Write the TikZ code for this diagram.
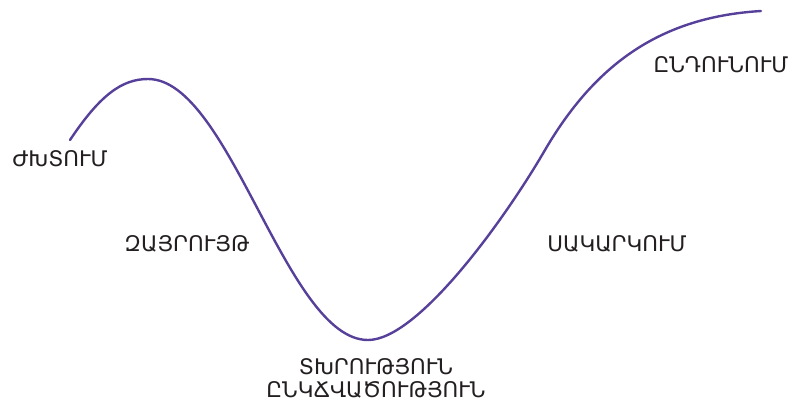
\documentclass[tikz,border=0pt]{standalone}
\usepackage{fontspec}
\setmainfont{DejaVu Sans}
\definecolor{curvecol}{HTML}{57409A}
\definecolor{textcol}{HTML}{231F20}
\begin{document}
\begin{tikzpicture}[x=1pt,y=-1pt,
  stage/.style={text=textcol,font=\fontsize{21.5}{23}\selectfont,inner sep=0pt,align=center},
  curve/.style={draw=curvecol,line width=2.4pt,line cap=round}]
\useasboundingbox (0,0) rectangle (797,402);
\draw[curve] (70,140) .. controls (100,95) and (122,79) .. (148,79)
  .. controls (230,79) and (286,340) .. (368,340)
  .. controls (418,340) and (505,219) .. (545,150)
  .. controls (595.5,63.7) and (661,17) .. (761,11);
\node[stage] (denial) at (60,159) {ԺԽՏՈՒՄ};
\node[stage] (anger) at (187,244) {ԶԱՅՐՈՒՅԹ};
\node[stage] (depr) at (376,378.5) {ՏԽՐՈՒԹՅՈՒՆ\\ԸՆԿՃՎԱԾՈՒԹՅՈՒՆ};
\node[stage] (barg) at (617,244) {ՍԱԿԱՐԿՈՒՄ};
\node[stage] (accept) at (721,65) {ԸՆԴՈՒՆՈՒՄ};
\end{tikzpicture}
\end{document}
